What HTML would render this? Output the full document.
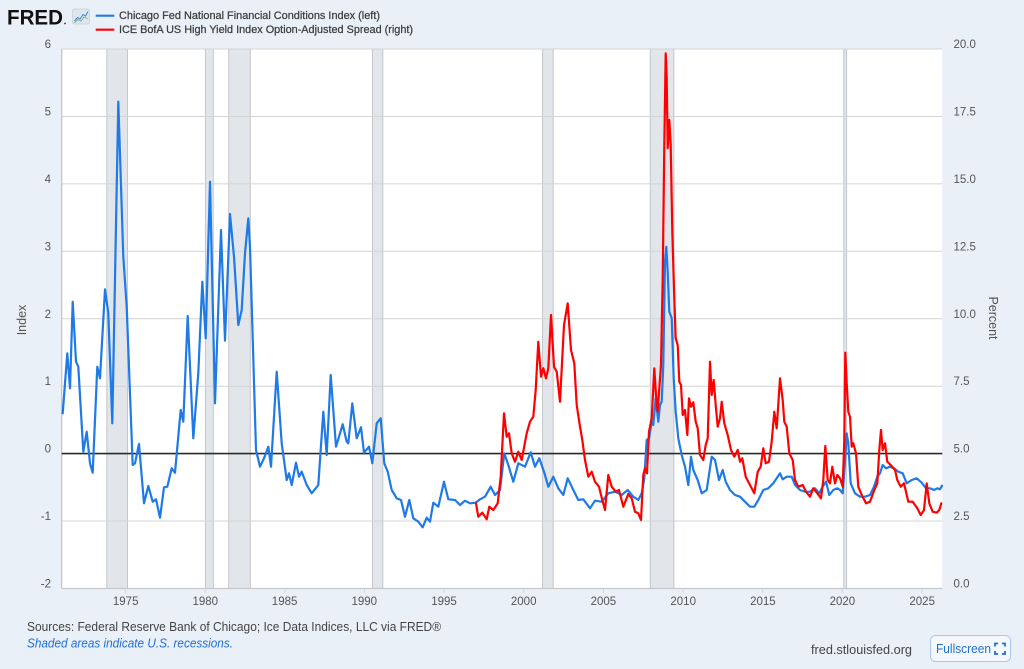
<!DOCTYPE html>
<html>
<head>
<meta charset="utf-8">
<style>
html,body{margin:0;padding:0;background:#e9f0f8;}
svg{display:block;}
text{font-family:"Liberation Sans",Arial,sans-serif;}
</style>
</head>
<body>
<svg width="1024" height="669" viewBox="0 0 1024 669" xmlns="http://www.w3.org/2000/svg">
<rect x="0" y="0" width="1024" height="669" fill="#e9f0f8"/>

<!-- header -->
<text x="7" y="24.5" font-size="21" font-weight="bold" fill="#111" textLength="56" lengthAdjust="spacingAndGlyphs">FRED</text>
<circle cx="65" cy="23.5" r="0.9" fill="#333"/>
<rect x="72.7" y="9" width="16.6" height="15" rx="1.5" fill="#dfe6ee" stroke="#c5ced9" stroke-width="0.8"/>
<polyline points="74.5,21 77.5,17.5 80,19 83,14.5 85.5,16 88,11.5" fill="none" stroke="#3b82d6" stroke-width="1"/>
<polyline points="74.5,22.5 78,19.5 81,21 84,17 87.5,18.5" fill="none" stroke="#6ab07a" stroke-width="0.9"/>
<line x1="95.7" y1="15.7" x2="114.3" y2="15.7" stroke="#1f7ae5" stroke-width="2.2"/>
<line x1="95.7" y1="29.7" x2="114.3" y2="29.7" stroke="#ff0000" stroke-width="2.2"/>
<text x="119" y="19" font-size="11" fill="#3d3d3d" stroke="#3d3d3d" stroke-width="0.25" textLength="261" lengthAdjust="spacingAndGlyphs">Chicago Fed National Financial Conditions Index (left)</text>
<text x="119" y="33" font-size="11" fill="#3d3d3d" stroke="#3d3d3d" stroke-width="0.25" textLength="294" lengthAdjust="spacingAndGlyphs">ICE BofA US High Yield Index Option-Adjusted Spread (right)</text>

<!-- plot area -->
<rect x="61.7" y="49" width="880.6" height="539.5" fill="#ffffff"/>

<!-- recession bands -->
<g fill="#e2e6eb" stroke="#c4c7cb" stroke-width="1">
<rect x="106.8" y="49" width="20.7" height="539.5"/>
<rect x="205.4" y="49" width="7.9" height="539.5"/>
<rect x="228.7" y="49" width="21.6" height="539.5"/>
<rect x="372.4" y="49" width="10.4" height="539.5"/>
<rect x="542.5" y="49" width="10.7" height="539.5"/>
<rect x="650.3" y="49" width="23.6" height="539.5"/>
<rect x="843.8" y="49" width="2.8" height="539.5"/>
</g>

<!-- gridlines -->
<g stroke="#d4d4d4" stroke-width="1">
<line x1="61.7" y1="49" x2="942.3" y2="49"/>
<line x1="61.7" y1="116.44" x2="942.3" y2="116.44"/>
<line x1="61.7" y1="183.88" x2="942.3" y2="183.88"/>
<line x1="61.7" y1="251.31" x2="942.3" y2="251.31"/>
<line x1="61.7" y1="318.75" x2="942.3" y2="318.75"/>
<line x1="61.7" y1="386.19" x2="942.3" y2="386.19"/>
<line x1="61.7" y1="521.06" x2="942.3" y2="521.06"/>
</g>
<line x1="61.7" y1="49" x2="61.7" y2="588.5" stroke="#c2c2c2" stroke-width="1.2"/>
<line x1="61.7" y1="588.5" x2="942.3" y2="588.5" stroke="#c8c8c8" stroke-width="1.2"/>
<g stroke="#cfd6de" stroke-width="1">
<line x1="125.4" y1="588.5" x2="125.4" y2="593"/>
<line x1="205.1" y1="588.5" x2="205.1" y2="593"/>
<line x1="284.8" y1="588.5" x2="284.8" y2="593"/>
<line x1="364.4" y1="588.5" x2="364.4" y2="593"/>
<line x1="444.1" y1="588.5" x2="444.1" y2="593"/>
<line x1="523.7" y1="588.5" x2="523.7" y2="593"/>
<line x1="603.4" y1="588.5" x2="603.4" y2="593"/>
<line x1="683.1" y1="588.5" x2="683.1" y2="593"/>
<line x1="762.7" y1="588.5" x2="762.7" y2="593"/>
<line x1="842.4" y1="588.5" x2="842.4" y2="593"/>
<line x1="922.0" y1="588.5" x2="922.0" y2="593"/>
</g>

<!-- zero line -->
<line x1="61.7" y1="453.6" x2="942.3" y2="453.6" stroke="#2a2a2a" stroke-width="1.6"/>

<!-- NFCI (blue) -->
<polyline fill="none" stroke="#1f7ae5" stroke-width="2.2" stroke-linejoin="round" stroke-linecap="round" points="62.7,413.3 67.3,353.3 70,388.3 72.7,301.7 76,361.7 78.3,366.7 83.3,451.7 86.7,431.7 90,463.3 92.7,472.7 97.3,366.7 100,378.3 105,289.3 108.3,313.3 112.3,423.3 118.3,101.7 123.3,256.7 126.7,306.7 132.7,465 135,463.3 139,444 144,503.3 148.3,486 152.7,501.7 156,499.3 160,517.7 164,487.3 167.3,486.7 171.7,468.3 175,472.7 180.7,410 183.3,421.7 187.7,316 193.3,438.3 198.3,373.3 202.3,281.7 205.7,338.3 210,181.7 215,403.3 221,230 225,340.7 230,214 234,256.7 238.3,325 241.7,310 245,253.3 248.3,218.3 250,246.7 256,450 260,466.7 264,458.3 268.3,446.7 271,466.7 276.7,371.7 281.7,443.3 286.7,480 289,473.3 291.7,485 296,462.7 299,476.7 301.7,471.7 306.7,485 311.7,493.3 318.3,485 323.3,411.7 326.7,455 330.7,375 336,446.7 342.7,424.3 346.7,441.7 348.3,443.3 352.3,403.3 356.7,438.3 361,427.3 364,452.7 369,446.7 372.3,463.3 376.7,423.3 380.7,418.3 384.3,463.3 387.7,471.7 391.7,490 396.7,498.3 401,500 405,516.7 409.3,500 413.3,518.3 418.3,521.7 422.7,527.3 426.7,517.7 430,521.7 433.3,502.7 438.3,506.7 444,481.7 448.3,499.3 455,500 460,505 465,500.7 470,503.3 475.7,502.7 480,499.3 485,496.7 490.7,486.7 495,495 500,490 504.3,453.3 508.3,465 513.3,481.7 518.3,463.3 525,466.7 530.7,452.3 535,466.7 539.3,458.3 544,471.7 548.3,486.7 553.3,476.7 558.3,488.3 563.3,495 567.7,478.3 573.3,490 578.3,500 583.3,499.3 590,508.3 595,500.7 601.7,501.7 608.3,493.3 615,491.7 621.7,495 627.7,490 633.3,496.7 638.3,500 641.7,493.3 644.3,478.3 646.7,440 649,438.3 651.7,421.7 653.3,425 655.7,398.3 658.3,421.7 660,405 661.7,401.7 663.3,365 665,261.7 666.3,246.7 667.7,271.7 669.3,311.7 671.7,318.3 673.7,378.3 675.7,411.7 678.3,438.3 681.7,455 685,466.7 688.3,485 691,456.7 693.3,470 697.7,480 701.7,493.3 706.7,490 711.7,456.7 715,460 719,480 722.7,470 725.7,481.7 730,490 735,495 740,496.7 745,501.7 750,506.7 754.3,506.7 758.3,500 763.3,490 768.3,488.3 773.3,483.3 776.7,478.3 780,473.3 782.7,479.3 786.7,476.7 791.7,476.7 795,485 800,490 805,491.7 810,491.7 815,488.3 819.3,493.3 822.7,486.7 826,481.7 829.3,495 833.3,490 837.3,488.3 840,490 842.7,493.3 845,461.7 846.7,433.3 848.3,443.3 850.7,483.3 855,493.3 860,496.7 865,496.7 870,495 874,486.7 877.3,476.7 880,473.3 882.7,465 886,468.3 890,466.7 894,468.3 898.3,471.7 902.7,473.3 906.7,483.3 911.7,480 916.7,478.3 921.7,482.7 926,488.3 930,488.3 934,490 937.3,488.3 940,489.3 942,485.7"/>

<!-- HY OAS (red) -->
<polyline fill="none" stroke="#ff0000" stroke-width="2.2" stroke-linejoin="round" stroke-linecap="round" points="476,503.3 478.3,516.7 482.3,512.7 486.7,519.3 489.3,506.7 493.3,510 497.7,503.3 500.7,476.7 504,413.3 506.7,436.7 509,433.3 511.7,453.3 515,461.7 518.3,451.7 521.7,460 526.7,433.3 530,421.7 533.3,416.7 535.7,390 538.3,341.7 541,376.7 543.3,368.3 546,378.3 548.3,368.3 551,315 554,366.7 556.7,371.7 560,401.7 564,325 567.7,303.3 571,350 574.3,363.3 576.7,405 580,426.7 582.3,440 585,460 588.3,476.7 591.7,471.7 595,481.7 599,486.7 602.3,500 605,510 608.3,475 611.7,486.7 615.7,491.7 619,490 623.3,506.7 628.3,494 631.7,498.3 635,511.7 638.3,513.3 641,520 643.3,475 645,468.3 647,473.3 649,431.7 651.7,418.3 654.3,368.3 656,395 657.7,411.7 659.3,388.3 661,365 662.7,278.3 664.3,145 665.7,53.3 666.7,78.3 667.7,148.3 669.3,120 670.7,145 672.3,231.7 674.3,298.3 675.7,338.3 677.7,345 679.3,381.7 681,385 682.7,415 685,410 687.3,435 689,398.3 691,406.7 693.3,402.3 695.7,421.7 697.7,428.3 700,455 703.3,460 705.7,445 707.7,438.3 710,361.7 711.7,395 713.7,380 715.7,405 717.7,426.7 720,418.3 721.7,401.7 724.3,423.3 727.7,435 731,450 734.3,456.7 737.7,450 740,461.7 742.3,458.3 745.7,476.7 750,485 754.3,493.3 757.7,471.7 760.7,466.7 763.3,448.3 765.7,463.3 769,461.7 771.7,441.7 774.3,411.7 776.7,428.3 780,378.3 782.7,400 784.3,421.7 786.7,426.7 789.3,453.3 792.7,460 795,480 798.3,486.7 802.7,485 806,491.7 810,496.7 813.3,488.3 817.3,493.3 821,498.3 823.3,480 825.3,446 827.7,480 830,483.3 832.3,466.7 835,483.3 837.3,475 840,478.3 842.7,486.7 844.3,440 845.3,352.7 846.7,383.3 848.3,411.7 850,416.7 851.7,446.7 853.3,443.3 856,453.3 858.3,486.7 861.7,495 866,503.3 870,501.7 874.3,490 877.3,483.3 879.3,450 881,430 882.7,450 885,443.3 887.3,461.7 890.7,465 895,470 897.3,480 900.7,486.7 904,483.3 908.3,501.7 912.7,501.7 917.3,508.3 920.7,515 924,510 926.7,483.3 929.3,503.3 932.7,511.7 936.7,512.7 939.3,510 941.3,503.3"/>

<!-- left axis labels -->
<g font-size="11.5" fill="#555" text-anchor="end">
<text x="51" y="48">6</text>
<text x="51" y="115.4">5</text>
<text x="51" y="182.9">4</text>
<text x="51" y="250.3">3</text>
<text x="51" y="317.8">2</text>
<text x="51" y="385.2">1</text>
<text x="51" y="452.6">0</text>
<text x="51" y="520.1">-1</text>
<text x="51" y="587.5">-2</text>
</g>
<!-- right axis labels -->
<g font-size="11.5" fill="#555" text-anchor="start">
<text x="953.5" y="48">20.0</text>
<text x="953.5" y="115.4">17.5</text>
<text x="953.5" y="182.9">15.0</text>
<text x="953.5" y="250.3">12.5</text>
<text x="953.5" y="317.8">10.0</text>
<text x="953.5" y="385.2">7.5</text>
<text x="953.5" y="452.6">5.0</text>
<text x="953.5" y="520.1">2.5</text>
<text x="953.5" y="587.5">0.0</text>
</g>
<!-- x axis labels -->
<g font-size="11.5" fill="#555" text-anchor="middle">
<text x="125.7" y="605">1975</text>
<text x="205.3" y="605">1980</text>
<text x="284.6" y="605">1985</text>
<text x="364.3" y="605">1990</text>
<text x="444.0" y="605">1995</text>
<text x="523.7" y="605">2000</text>
<text x="603.4" y="605">2005</text>
<text x="683.2" y="605">2010</text>
<text x="762.9" y="605">2015</text>
<text x="842.4" y="605">2020</text>
<text x="922.2" y="605">2025</text>
</g>

<!-- axis titles -->
<text transform="translate(26,320) rotate(-90)" font-size="12.5" fill="#555" text-anchor="middle">Index</text>
<text transform="translate(989,318) rotate(90)" font-size="12.5" fill="#555" text-anchor="middle">Percent</text>

<!-- footer -->
<text x="27" y="631" font-size="12.5" fill="#444" textLength="414" lengthAdjust="spacingAndGlyphs">Sources: Federal Reserve Bank of Chicago; Ice Data Indices, LLC via FRED®</text>
<text x="27" y="647.5" font-size="12.5" font-style="italic" fill="#1f6fd1" textLength="206" lengthAdjust="spacingAndGlyphs">Shaded areas indicate U.S. recessions.</text>
<text x="811" y="654" font-size="13" fill="#444" textLength="101" lengthAdjust="spacingAndGlyphs">fred.stlouisfed.org</text>

<!-- fullscreen button -->
<rect x="930.5" y="635.5" width="80" height="26" rx="5" fill="#f4f8fd" stroke="#a8c8ee" stroke-width="1"/>
<text x="936" y="653" font-size="13" fill="#1f6fd1" textLength="55" lengthAdjust="spacingAndGlyphs">Fullscreen</text>
<g stroke="#1f6fd1" stroke-width="1.8" fill="none">
<polyline points="995,646.5 995,643.5 998,643.5"/>
<polyline points="1002,643.5 1005,643.5 1005,646.5"/>
<polyline points="995,651 995,654 998,654"/>
<polyline points="1002,654 1005,654 1005,651"/>
</g>
</svg>
</body>
</html>
